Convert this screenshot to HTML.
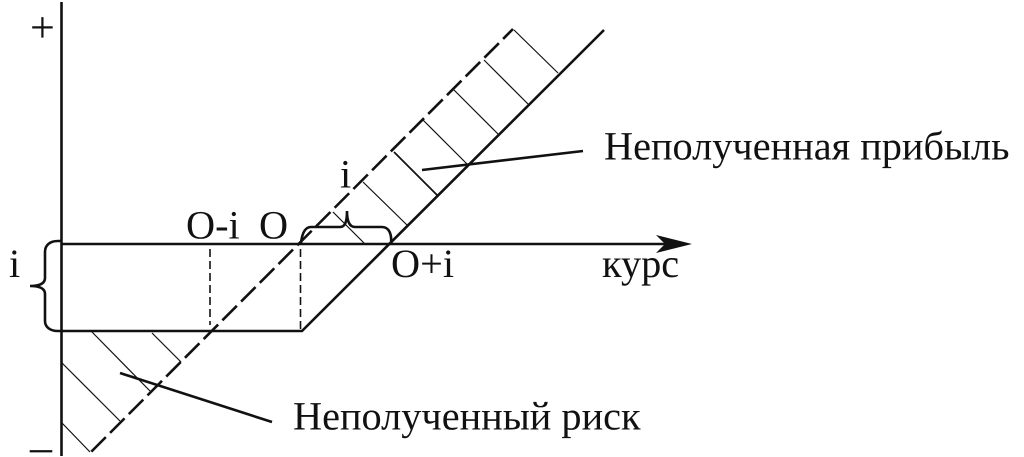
<!DOCTYPE html>
<html>
<head>
<meta charset="utf-8">
<style>
html,body{margin:0;padding:0;background:#fff;}
svg{display:block;}
text{font-family:"Liberation Serif",serif;font-size:40.3px;fill:#111;text-rendering:geometricPrecision;}
</style>
</head>
<body>
<svg width="1024" height="457" viewBox="0 0 1024 457" xmlns="http://www.w3.org/2000/svg">
<g fill="none" stroke="#111" stroke-width="1.2">
<line x1="92" y1="332" x2="150" y2="391"/>
<line x1="152" y1="333" x2="181" y2="362"/>
<line x1="62" y1="363" x2="120" y2="421"/>
<line x1="62" y1="423" x2="90" y2="452"/>
<line x1="514" y1="30" x2="558" y2="73"/>
<line x1="484" y1="60" x2="528" y2="104"/>
<line x1="454" y1="90" x2="498" y2="134"/>
<line x1="423" y1="120" x2="467" y2="164"/>
<line x1="394" y1="152" x2="437" y2="195" stroke-width="1.8"/>
<line x1="363" y1="182" x2="407" y2="225"/>
<line x1="333" y1="212" x2="364" y2="243"/>
</g>
<g fill="none" stroke="#111" stroke-width="1.6" stroke-dasharray="8 4">
<line x1="210" y1="249" x2="210" y2="325"/>
<line x1="300.5" y1="249" x2="300.5" y2="330"/>
</g>
<g fill="none" stroke="#111" stroke-width="2.6">
<line x1="61.5" y1="2" x2="61.5" y2="456"/>
<line x1="61" y1="244" x2="672" y2="244"/>
<polyline points="61,331 302,331 604,30"/>
<line x1="513" y1="29" x2="91" y2="452" stroke-dasharray="20.5 6" stroke-dashoffset="6.5"/>
<line x1="422" y1="170" x2="583" y2="151"/>
<line x1="120" y1="373" x2="272" y2="422"/>
<path d="M301,243 C302,234 305,227 311,227 L340,227 C345,227 347,222 347,211 C347,222 350,227 355,227 L382,227 C389,227 392,234 391,244"/>
<path d="M61,241 L58,241 C50,241 45,245 45,252 L45,278 C45,283 41,286 30,286 C41,286 45,289 45,294 L45,321 C45,327 50,331 58,331 L61,331"/>
</g>
<polygon points="692,244 656,235 665,244 656,253" fill="#111"/>
<text x="604" y="159.5">Неполученная прибыль</text>
<text x="293" y="429.5">Неполученный риск</text>
<text x="186" y="238.5">O-i</text>
<text x="259" y="238.5">O</text>
<text x="340" y="187.5">i</text>
<text x="9" y="277">i</text>
<text x="391" y="277">O+i</text>
<text x="602" y="277">курс</text>
<text x="30" y="42" style="font-size:44px">+</text>
<text x="30" y="461.5" style="font-size:44px">–</text>
</svg>
</body>
</html>
